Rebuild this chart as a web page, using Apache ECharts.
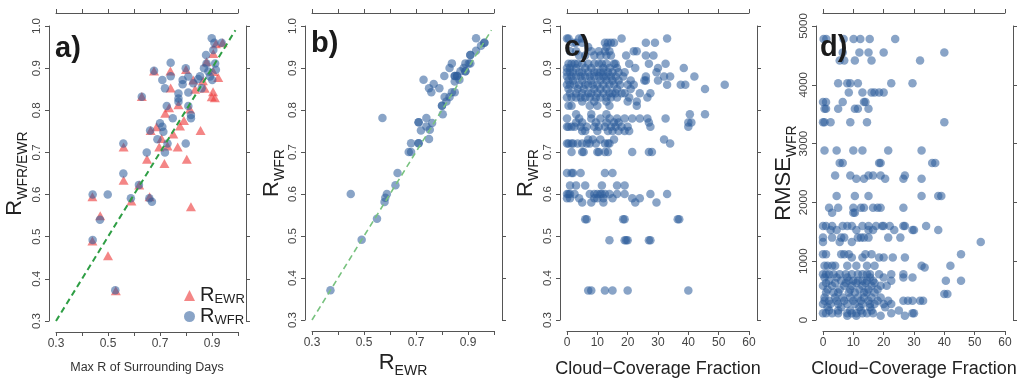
<!DOCTYPE html>
<html><head><meta charset="utf-8">
<script src="https://cdn.jsdelivr.net/npm/echarts@6/dist/echarts.min.js"></script>
<style>html,body{margin:0;padding:0;background:#fff}#c{width:1024px;height:383px}</style>
</head><body><div id="c"></div>
<script>
// ---------- data ----------
// panel a: [max R of surrounding days, R]
const aEWR = [[0.44,0.595],[0.44,0.49],[0.47,0.55],[0.50,0.455],[0.53,0.372],[0.56,0.713],[0.56,0.634],[0.59,0.585],[0.62,0.623],[0.63,0.833],[0.65,0.684],[0.66,0.595],[0.664,0.752],[0.677,0.893],[0.687,0.761],[0.697,0.713],[0.706,0.733],[0.717,0.674],[0.72,0.793],[0.729,0.715],[0.735,0.806],[0.741,0.853],[0.74,0.893],[0.751,0.744],[0.768,0.713],[0.771,0.813],[0.777,0.763],[0.792,0.776],[0.80,0.897],[0.803,0.684],[0.815,0.803],[0.819,0.571],[0.828,0.872],[0.835,0.85],[0.856,0.752],[0.865,0.87],[0.872,0.852],[0.879,0.915],[0.899,0.832],[0.904,0.844],[0.905,0.892],[0.905,0.935],[0.911,0.83],[0.915,0.958],[0.924,0.878],[0.941,0.96]];
const aWFR = [[0.441,0.60],[0.441,0.492],[0.469,0.54],[0.499,0.60],[0.528,0.373],[0.559,0.721],[0.559,0.65],[0.588,0.591],[0.619,0.623],[0.63,0.832],[0.649,0.70],[0.659,0.591],[0.662,0.752],[0.669,0.583],[0.677,0.894],[0.69,0.731],[0.70,0.769],[0.709,0.872],[0.709,0.761],[0.713,0.749],[0.719,0.852],[0.719,0.70],[0.726,0.81],[0.729,0.721],[0.741,0.913],[0.741,0.881],[0.749,0.781],[0.771,0.84],[0.771,0.828],[0.771,0.82],[0.787,0.872],[0.787,0.862],[0.799,0.90],[0.799,0.721],[0.809,0.88],[0.809,0.842],[0.809,0.81],[0.819,0.789],[0.819,0.781],[0.828,0.864],[0.847,0.874],[0.854,0.881],[0.86,0.852],[0.869,0.90],[0.877,0.931],[0.879,0.911],[0.886,0.892],[0.892,0.88],[0.899,0.971],[0.901,0.872],[0.905,0.943],[0.909,0.96],[0.912,0.911],[0.915,0.896],[0.937,0.96]];
// panel b: [R_EWR, R_WFR]
const bPairs = [[0.371,0.371],[0.449,0.60],[0.491,0.491],[0.55,0.541],[0.571,0.781],[0.579,0.581],[0.582,0.591],[0.588,0.60],[0.621,0.621],[0.629,0.65],[0.672,0.70],[0.681,0.721],[0.681,0.70],[0.71,0.771],[0.71,0.771],[0.71,0.721],[0.71,0.721],[0.719,0.751],[0.729,0.872],[0.74,0.781],[0.74,0.761],[0.75,0.731],[0.75,0.852],[0.753,0.753],[0.759,0.842],[0.762,0.769],[0.768,0.862],[0.79,0.852],[0.80,0.81],[0.80,0.81],[0.803,0.79],[0.809,0.881],[0.81,0.831],[0.817,0.82],[0.829,0.831],[0.829,0.90],[0.838,0.911],[0.838,0.842],[0.849,0.842],[0.849,0.881],[0.849,0.881],[0.849,0.868],[0.858,0.881],[0.858,0.881],[0.867,0.872],[0.871,0.892],[0.883,0.90],[0.89,0.911],[0.89,0.892],[0.89,0.892],[0.903,0.911],[0.909,0.931],[0.909,0.931],[0.909,0.911],[0.931,0.971],[0.931,0.941],[0.95,0.953],[0.963,0.96],[0.963,0.96]];
// 1:1 reference line ends
const refLine = [0.3, 0.99];
// panel c: R_WFR rows and the cloud-coverage values in each row
const cR = [0.97,0.96,0.95,0.94,0.93,0.91,0.90,0.89,0.88,0.87,0.86,0.85,0.84,0.83,0.82,0.81,0.79,0.78,0.77,0.76,0.75,0.73,0.72,0.70,0.65,0.62,0.60,0.59,0.58,0.54,0.49,0.37];
const cCloud = [
 [0,0.5,4,5,18,33],
 [2,3,5,12.5,13.5,14.5,15.5,26,29],
 [7,13],
 [1,3,8,10.5,12.5,14,22,23],
 [4,6,9,11,13,14.5,19.5,26,28.5],
 [0.5,1.5,2.5,3.5,5,7,9,10.5,11.5,13,15.5,16,20.5,27,32.5],
 [0,1,3,6,8,12,14,16.5,22.5,30,38.5],
 [0,1,2,4,5,7,9,10,11,12,13.5,15,17,19,29.5],
 [0,1.5,3,4.5,6,7.5,9,10.5,12,13,14.5,16,18.5,26,32,34,42],
 [0.5,2,5,8,11,13,15,17,21,25.5,26,30],
 [0,1,2.5,4,6,7,8.5,10,12,14,15.5,17.5,20,22,33,37.5,39,52],
 [0.5,3.5,5.5,9,11,13,16.5,21,45.5],
 [1,3,5,7,8,10,12,14,15,16,18,19,24,27.5],
 [0,1.5,3,4.5,6,7.5,9.5,11,13,14.5,16.5,20.5,26.5],
 [5,9,13,20,23],
 [0.5,1.5,7.5,10,14,23],
 [3,8,13,40.5,45.5],
 [0,4,8,11,14,16.5,19,21.5,24,26.5,32.5],
 [3,5,9.5,13,15.5,17,27,40,41],
 [0,0.5,1.5,2.5,4.5,6.5,9,10.5,12.5,14.5,16,18,20,27.5,40],
 [5,6,10,13.5,15,17,19,20.5],
 [7,8.5,11,15.5,32],
 [0,0.5,1.5,2,3.5,5,6.5,7.5,9.5,12.5,13.5,14,34],
 [1.5,5,5.5,10,10.5,12.5,13.5,21.5,27,28],
 [0,1.5,2,4.5,12.5,15],
 [1,3,6,11.5,16.5,19],
 [0,0.5,1,2.5,7.5,9,10,11,11.5,12.5,14,16.5,19,27.5,33],
 [0,1,4,9,10,12,15,21.5,24],
 [5,8,12,22.5,29.5],
 [6,6.5,18.5,19,36.5,37],
 [14,19,19.5,20,27,27.5],
 [7,8,12.5,15,20,40]
];
// panel d: RMSE_WFR rows and the cloud-coverage values in each row
const dRMSE = [4780,4548,4412,4028,3870,3706,3593,3362,2881,2672,2458,2401,2107,1910,1825,1599,1531,1401,1328,1119,1062,921,893,780,723,667,630,582,520,469,441,384,328,271,215,160,113,73];
const dCloud = [
 [0.2,1.1,6.8,10.1,12.3,15.4,23.8],
 [6.5,12,15,20,40],
 [5.5,7,10.5,16,32],
 [5,8,9,11.5,22.5,29.5],
 [8.5,13,16,17,18.5,20],
 [0,1,6.5,13.5,14],
 [0.5,1,5,10.5,11.5,15],
 [0,0.5,2.5,9,14.5,40],
 [0.5,4.5,10,13,21.5,32.5],
 [5.5,6.5,18.5,19,36,37],
 [4,9,15,16.5,19,27],
 [11,13.5,20.5,26.5,32.5],
 [4.5,10.5,15,32.5,38,39],
 [2,5,10,12.5,13.5,16.5,18,19,26.5],
 [3,10,10.5],
 [0,1,3,6.5,8,9.5,13,15,17.5,19.5,20,22,26.5,27,34],
 [2.5,4.5,11,15,16.5,23.5,29.5,30,38],
 [0,3,6,7,11.5,12.5,13.5,15,21.5,25.5],
 [0,5.5,9.5,52],
 [0,1,6,7,8.5,14,16,45.5],
 [9.5,13,18.5,20,23,27],
 [0.5,1.5,3,4,8,11,14.5,17,32.5,42],
 [33.5],
 [0,1,2,3.5,5.5,7.5,9.5,11.5,13,14.5,15.5,18.5,22.5,26.5],
 [0.5,4.5,8,15.5,20,26.5,29.5],
 [2,6,8.5,10,11.5,13,14.5,16.5,22.5,40.5,45.5],
 [1,4,7.5,11,14,17],
 [0,3,7,9.5,13,16,19,21],
 [1.5,5.5,9,12,15,18],
 [1,3.5,5,8.5,10.5,13.5,14.5,17],
 [40,41],
 [0.5,4,6.5,9,11.5,13.5,16,19],
 [0.5,2,4.5,7,10,12.5,15,18,21.5,26.5,28,29.5,32,33],
 [0,2.5,5,8,10.5,13,15.5,17,20,22.5],
 [1.5,6,12,15.5,20.5],
 [2,5,9,12.5,16,25],
 [0,1,3,5,8,9.5,11,13,14.5,16.5,22.5,29.5,30],
 [8,11,19,27]
];
// axis ranges / ticks
const rTicks = {min:0.3, max:1.0, step:0.1};
const cloudTicks = {min:0, max:60, step:10};
const rmseTicks = {min:0, max:5000, step:1000};
const panelLabels = ['a)','b)','c)','d)'];

// ---------- build ----------
function rowsToPoints(rows, ys){ const out=[]; rows.forEach((xs,i)=>xs.forEach(x=>out.push([x,ys[i]]))); return out; }
const cPoints = rowsToPoints(cCloud, cR);
const dPoints = rowsToPoints(dCloud, dRMSE);

const FONT = 'Liberation Sans';
const AX = '#555';
const BLUE = '#2c5d9c';
const RED = '#ee3b3b';
const lefts = [56, 312, 567, 823];
const W = 182, TOP = 26, H = 295;

const rich = {
  r:{fontFamily:FONT, fontSize:22, color:'#222', verticalAlign:'top', lineHeight:26},
  s:{fontFamily:FONT, fontSize:14, color:'#222', verticalAlign:'bottom', lineHeight:26}
};
const oddTenth = v => { const k=Math.round(v*10); return k%2===1 ? (k/10).toFixed(1) : ''; };
const oneDec = v => (Math.round(v*10)/10).toFixed(1);

const grids = lefts.map(l => ({left:l, top:TOP, width:W, height:H}));
const xAxes = [], yAxes = [];
function addAxes(gi, xt, yt, xfmt, yfmt, xname, xnameGap, xnameStyle, yname, ynameGap){
  const common = {gridIndex:gi, type:'value', splitLine:{show:false}, nameMoveOverlap:false,
    axisLine:{show:true, onZero:false, lineStyle:{color:AX, width:1}},
    axisTick:{show:true, length:4, lineStyle:{color:AX, width:1}}};
  xAxes.push(Object.assign({}, common, {position:'bottom', offset:11, min:xt.min, max:xt.max, interval:xt.step,
    axisLabel:{show:true, formatter:xfmt, fontFamily:FONT, fontSize:12, color:'#444', margin:6},
    name:xname, nameLocation:'middle', nameGap:xnameGap, nameTextStyle:xnameStyle}));
  xAxes.push(Object.assign({}, common, {position:'top', offset:13, min:xt.min, max:xt.max, interval:xt.step, axisLabel:{show:false}}));
  yAxes.push(Object.assign({}, common, {position:'left', offset:7, min:yt.min, max:yt.max, interval:yt.step,
    axisLabel:{show:true, rotate:90, formatter:yfmt, fontFamily:FONT, fontSize:11.5, color:'#444', margin:6},
    name:yname, nameLocation:'middle', nameGap:ynameGap, nameTextStyle:{rich:rich}}));
  yAxes.push(Object.assign({}, common, {position:'right', offset:8, min:yt.min, max:yt.max, interval:yt.step, axisLabel:{show:false}}));
}
const cloudTitle = {fontFamily:FONT, fontSize:18, color:'#222'};
addAxes(0, rTicks, rTicks, oddTenth, oneDec, 'Max R of Surrounding Days', 29, {fontFamily:FONT, fontSize:12.5, color:'#333'}, '{r|R}{s|WFR/EWR}', 19);
addAxes(1, rTicks, rTicks, oddTenth, oneDec, '{r|R}{s|EWR}', 21, {rich:rich}, '{r|R}{s|WFR}', 18);
addAxes(2, cloudTicks, rTicks, v=>String(v), oneDec, 'Cloud\u2212Coverage Fraction', 29, cloudTitle, '{r|R}{s|WFR}', 19);
addAxes(3, cloudTicks, rmseTicks, v=>String(v), v=>String(v), 'Cloud\u2212Coverage Fraction', 29, cloudTitle, '{r|RMSE}{s|WFR}', 17);

function scatter(name, gi, data, symbol, size, color, z, op){
  return {name:name, type:'scatter', xAxisIndex:gi*2, yAxisIndex:gi*2, data:data, symbol:symbol, symbolSize:size,
    clip:false, silent:true, z:z, itemStyle:{color:color, opacity:op}, emphasis:{disabled:true}};
}
function refSeries(gi, color, width){
  return {type:'line', xAxisIndex:gi*2, yAxisIndex:gi*2, data:[[refLine[0],refLine[0]],[refLine[1],refLine[1]]],
    symbol:'none', silent:true, z:5, lineStyle:{color:color, width:width, type:[6,4]}};
}
const series = [
  scatter('EWR', 0, aEWR, 'triangle', [10,9], RED, 2, 0.62),
  scatter('WFR', 0, aWFR, 'circle', 8.5, BLUE, 3, 0.56),
  refSeries(0, '#2e9e44', 2),
  refSeries(1, '#78c27f', 1.6),
  scatter('WFR b', 1, bPairs, 'circle', 8.5, BLUE, 3, 0.56),
  scatter('WFR c', 2, cPoints, 'circle', 8.5, BLUE, 3, 0.56),
  scatter('WFR d', 3, dPoints, 'circle', 8.5, BLUE, 3, 0.56)
];

const letterPos = [[55,51],[311,46],[564,50],[820,50]];
const graphic = panelLabels.map((t,i)=>({type:'text', left:letterPos[i][0], top:letterPos[i][1]-17, z:100,
  style:{text:t, fontFamily:FONT, fontWeight:'bold', fontSize:29, fill:'#1a1a1a'}}));

const option = {
  backgroundColor:'#fff', animation:false,
  grid:grids, xAxis:xAxes, yAxis:yAxes, series:series, graphic:graphic,
  legend:{left:179, top:280, orient:'vertical', itemWidth:11, itemHeight:11, itemGap:0,
    data:[{name:'EWR', icon:'triangle'},{name:'WFR', icon:'circle'}],
    formatter: n => '{r|R}{s|'+n+'}',
    textStyle:{rich:{
      r:{fontFamily:FONT, fontSize:20, color:'#222', verticalAlign:'top', lineHeight:21},
      s:{fontFamily:FONT, fontSize:13, color:'#222', verticalAlign:'bottom', lineHeight:21}}}}
};
const chart = echarts.init(document.getElementById('c'), null, {renderer:'canvas'});
chart.setOption(option);
</script></body></html>
